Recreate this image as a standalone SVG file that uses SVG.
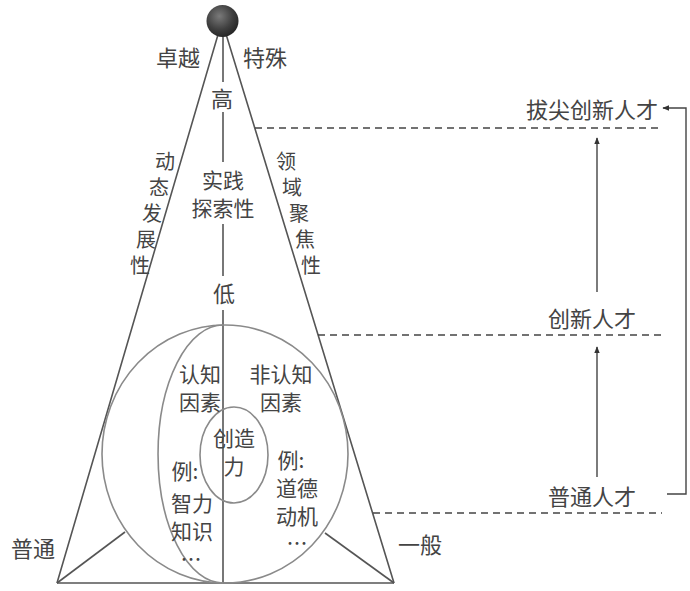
<svg xmlns="http://www.w3.org/2000/svg" width="690" height="591" viewBox="0 0 690 591">
<defs>
<style>
text{font-family:"Noto Sans CJK SC","Noto Sans",sans-serif;font-size:21px;fill:#444;dominant-baseline:central;text-anchor:middle}
.big{font-size:22px}
.sl{font-size:20px}
.ln{stroke:#555;stroke-width:1.6;fill:none}
.cl{stroke:#8a8a8a;stroke-width:1.6;fill:none}
.dash{stroke:#444;stroke-width:1.6;stroke-dasharray:7 5;fill:none}
.arr{stroke:#444;stroke-width:1.4;fill:none;marker-end:url(#ah)}
</style>
<marker id="ah" viewBox="0 0 10 10" refX="9" refY="5" markerWidth="7" markerHeight="7" markerUnits="userSpaceOnUse" orient="auto">
<path d="M0,1 L10,5 L0,9 Z" fill="#333"/>
</marker>
<radialGradient id="sg" cx="0.4" cy="0.35" r="0.7">
<stop offset="0" stop-color="#7a7a7a"/>
<stop offset="0.6" stop-color="#3f3f3f"/>
<stop offset="1" stop-color="#222"/>
</radialGradient>
</defs>
<rect width="690" height="591" fill="#fff"/>
<g id="pyramid">
<polyline class="ln" points="57,583 222,21 394,583"/>
<line class="ln" x1="57" y1="583" x2="394" y2="583"/>
<line class="ln" x1="57" y1="583" x2="125" y2="532"/>
<line class="ln" x1="394" y1="583" x2="325" y2="533"/>
<line class="ln" x1="223" y1="30" x2="223" y2="82"/>
<line class="ln" x1="223" y1="112" x2="223" y2="162"/>
<line class="ln" x1="223" y1="224" x2="223" y2="276"/>
<line class="ln" x1="223" y1="310" x2="223" y2="583"/>
</g>
<g id="sphere"><circle cx="222.5" cy="21" r="16" fill="url(#sg)"/></g>
<g id="circles">
<ellipse class="cl" cx="225" cy="454" rx="123" ry="129"/>
<path class="cl" d="M223,325 A65,129 0 0 0 223,583"/>
<ellipse id="creativity" class="cl" cx="234" cy="455" rx="34" ry="48" fill="#fff"/>
</g>
<g id="labels">
<text class="big" x="178" y="56">卓越</text>
<text class="big" x="265" y="56">特殊</text>
<text class="big" x="222" y="97">高</text>
<text><tspan x="223" y="179">实践</tspan><tspan x="223" y="206.5">探索性</tspan></text>
<text class="big" x="224" y="292">低</text>
<text class="sl"><tspan x="165" y="160">动</tspan><tspan x="159" y="186">态</tspan><tspan x="152" y="212">发</tspan><tspan x="146" y="238">展</tspan><tspan x="140" y="264">性</tspan></text>
<text class="sl"><tspan x="286" y="160">领</tspan><tspan x="292" y="186">域</tspan><tspan x="299" y="212">聚</tspan><tspan x="305" y="238">焦</tspan><tspan x="311" y="264">性</tspan></text>
<text class="big" x="33" y="547">普通</text>
<text class="big" x="420" y="543">一般</text>
</g>
<g id="factors">
<text><tspan x="200" y="373">认知</tspan><tspan x="200" y="400.5">因素</tspan></text>
<text><tspan x="281" y="373">非认知</tspan><tspan x="281" y="400.5">因素</tspan></text>
<text><tspan x="234" y="437">创造</tspan><tspan x="234" y="465">力</tspan></text>
<text><tspan x="185" y="470">例:</tspan><tspan x="192" y="502">智力</tspan><tspan x="192" y="530">知识</tspan><tspan x="191" y="558">…</tspan></text>
<text><tspan x="291" y="459">例:</tspan><tspan x="297" y="487">道德</tspan><tspan x="297" y="514.5">动机</tspan><tspan x="297" y="542">…</tspan></text>
</g>
<g id="levels">
<text class="big" x="592" y="108">拔尖创新人才</text>
<text class="big" x="592" y="317">创新人才</text>
<text class="big" x="592" y="495">普通人才</text>
</g>
<g id="connectors">
<line class="dash" x1="255" y1="128" x2="662" y2="128"/>
<line class="dash" x1="318" y1="335" x2="662" y2="335"/>
<line class="dash" x1="373" y1="513" x2="662" y2="513"/>
<line class="arr" x1="597" y1="292" x2="597" y2="138"/>
<line class="arr" x1="597" y1="477" x2="597" y2="347"/>
<polyline class="arr" points="667,494 686,494 686,108 663,108"/>
</g>
</svg>
